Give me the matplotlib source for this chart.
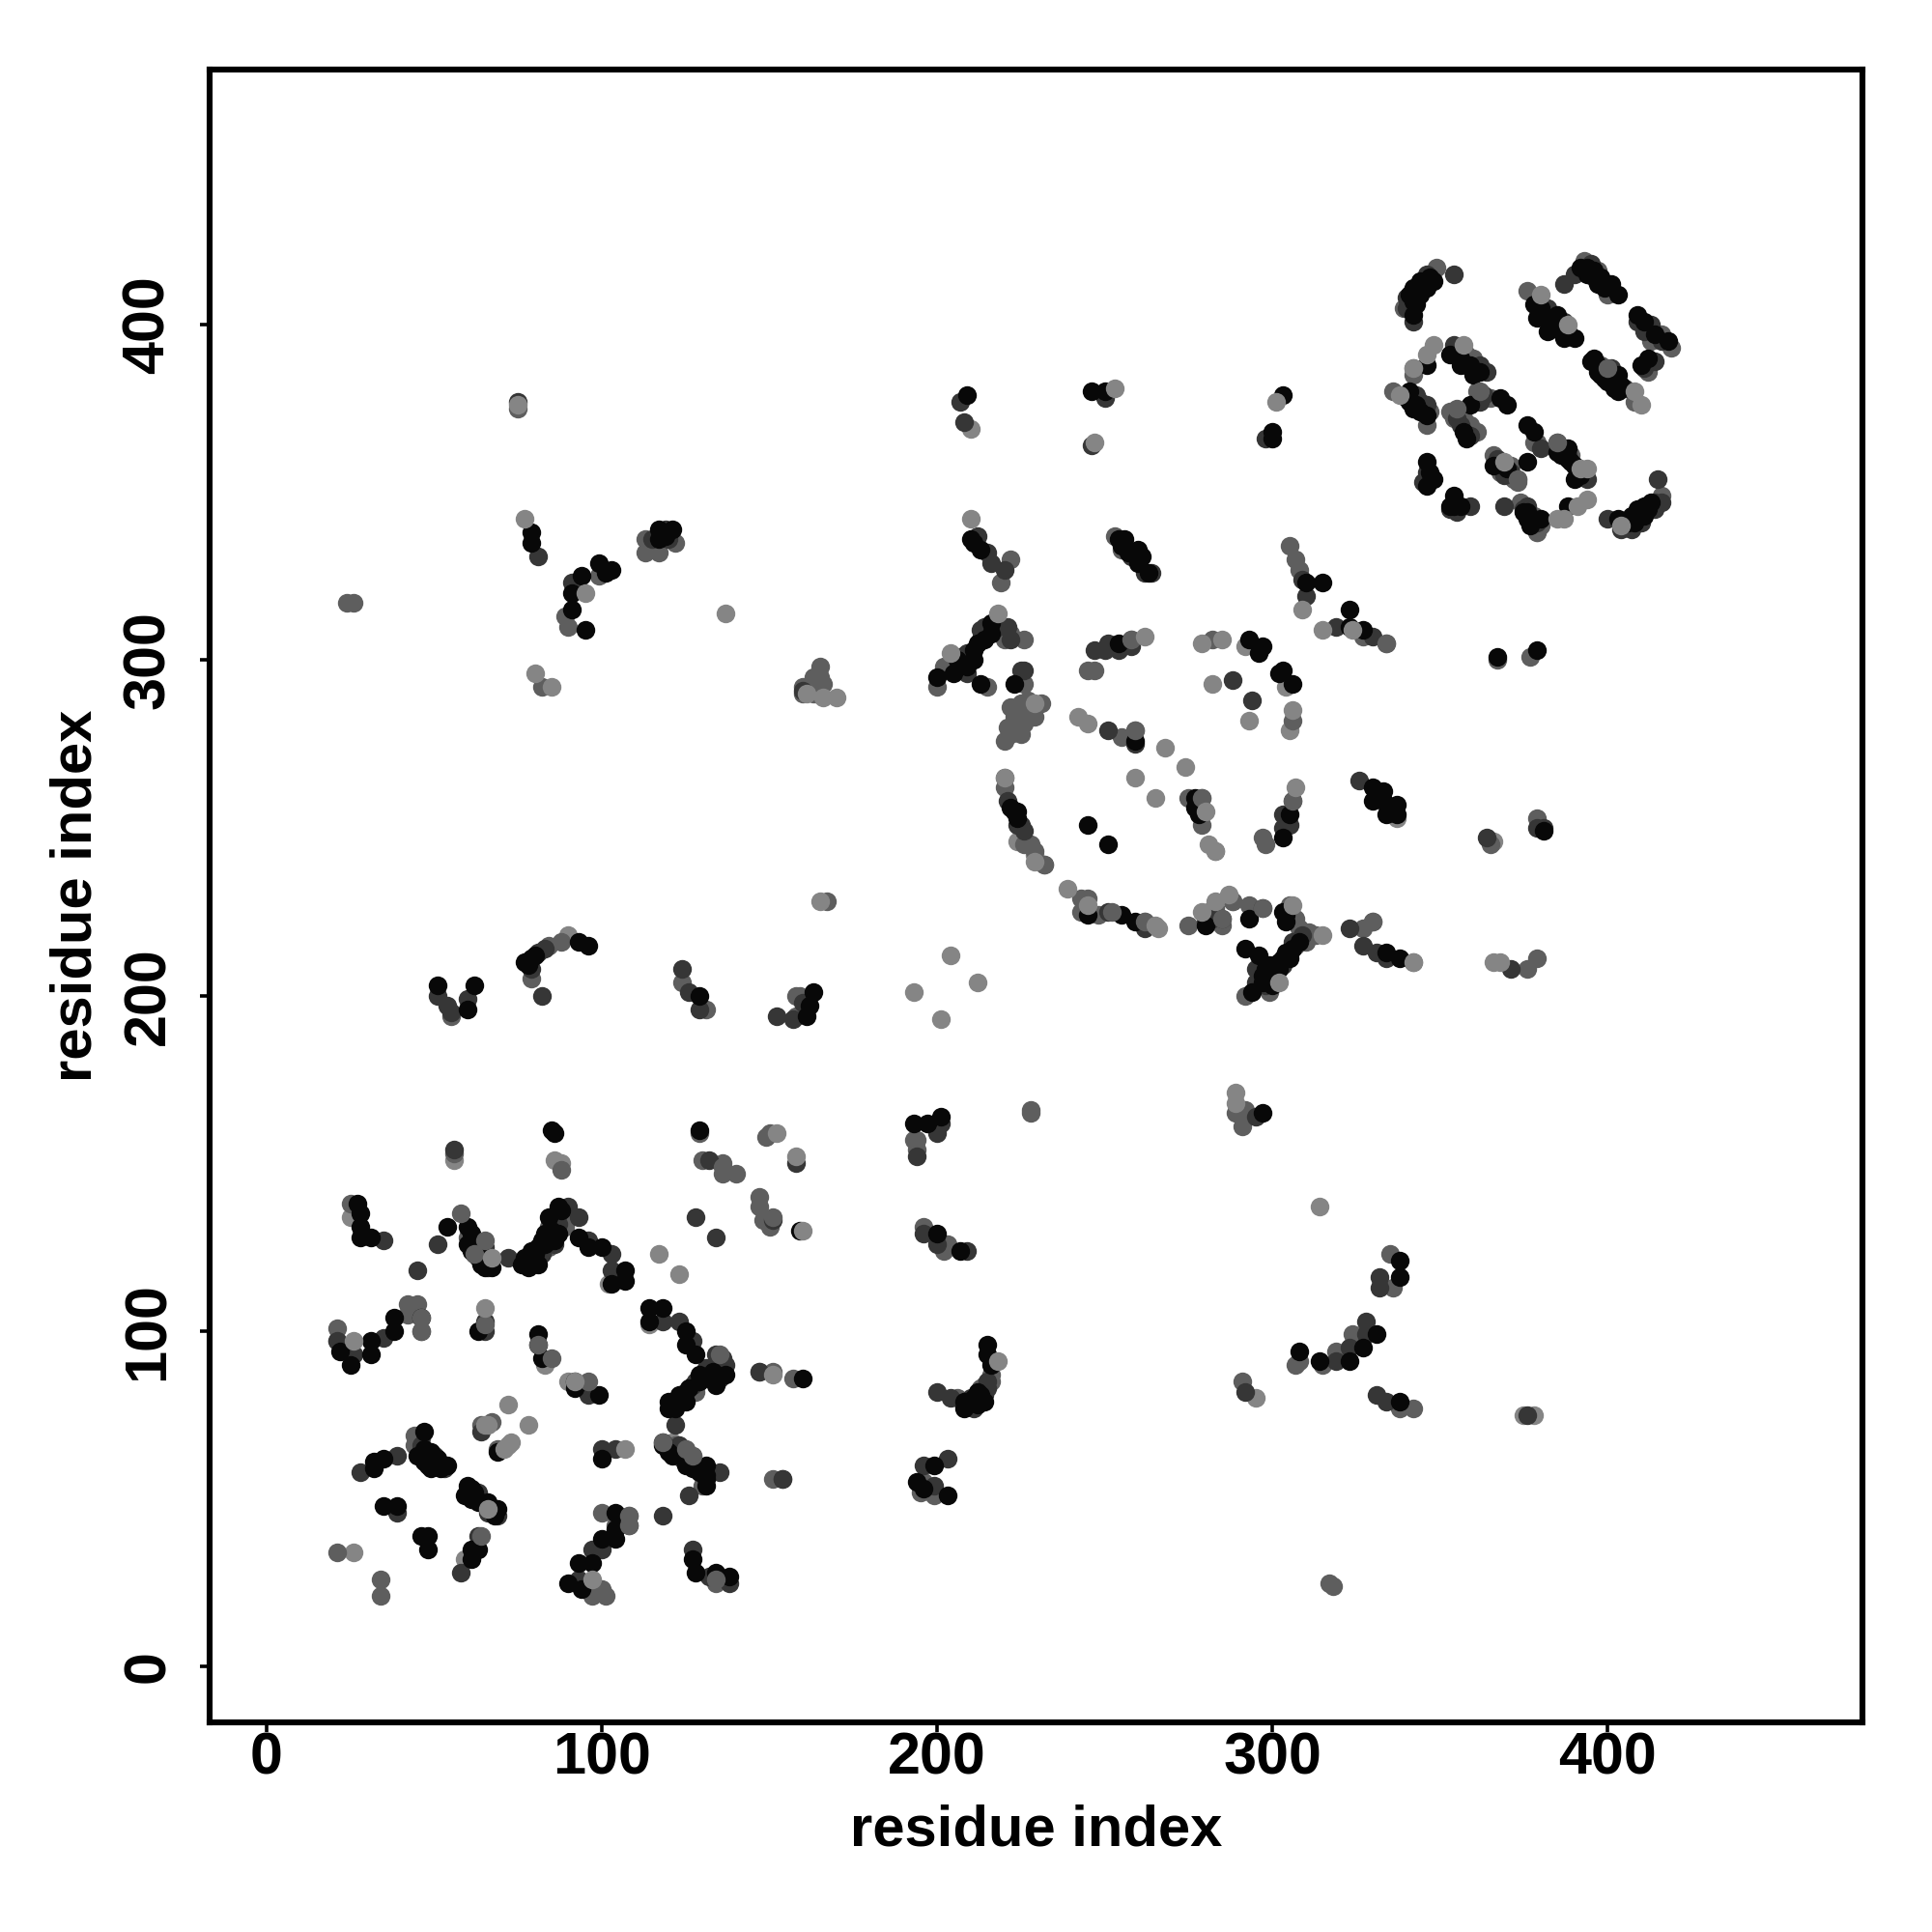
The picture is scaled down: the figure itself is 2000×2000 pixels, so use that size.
import matplotlib
matplotlib.use('Agg')
import matplotlib.pyplot as plt

plt.rcParams['font.family'] = ['Liberation Sans', 'DejaVu Sans']
plt.rcParams['font.weight'] = 'bold'

tick_vals = [0, 100, 200, 300, 400]
x_label = 'residue index'
y_label = 'residue index'

# contacts (residue i, residue j), by grey level
light = [(56,151),(86,151),(88,150),(25,134),(83,90),(90,85),(121,67),(59,32),(102,114),(114,102),
         (305,279),(292,304),(337,253),(304,292),(366,246),(224,246),(229,242),(210,369),(379,338),
         (90,218),(295,80),(26,34),(375,75),(378,75)]
mid = [(56,153),(88,148),(130,151),(136,150),(136,147),(140,147),(147,140),(147,137),(148,133),(150,131),
       (25,138),(60,128),(62,127),(86,130),(21,97),(42,108),(45,108),(42,105),(21,101),(130,54),
       (123,63),(127,61),(127,63),(44,69),(45,65),(34,26),(34,21),(97,21),(101,21),(134,25),
       (100,46),(108,45),(104,42),(147,88),(151,88),(157,86),(151,56),(196,131),(202,124),(203,126),
       (214,84),(216,85),(206,80),(196,55),(195,52),(199,51),(194,154),(194,157),(193,157),
       (291,85),(307,90),(308,91),(315,90),(319,94),(324,99),(336,113),(338,77),(342,77),(335,123),
       (298,245),(297,247),(279,251),(283,243),(275,259),(279,259),(245,297),(247,297),(282,306),
       (255,277),(259,279),(258,306),(327,307),(334,305),(306,282),(243,229),(243,225),(248,224),
       (262,222),(275,221),(285,221),(288,228),(293,227),(292,200),(299,205),(299,201),(307,223),
       (313,218),(327,220),(330,222),(342,210),(226,245),(229,243),(232,239),(220,262),(228,245),
       (222,286),(228,283),(224,280),(221,280),(226,293),(222,308),(226,306),(200,292),(202,298),
       (215,292),(220,265),(232,239),(219,323),(222,330),(253,337),(255,333),(305,334),(307,330),
       (308,327),(89,313),(90,310),(99,325),(113,336),(113,332),(117,332),(122,335),(75,375),
       (24,317),(26,317),(82,292),(160,290),(165,298),(163,293),(163,290),(158,200),(365,245),(379,253),
       (377,301),(367,300),(376,208),(379,211),(289,165),(291,161),(292,166),(228,166),(228,165),
       (349,417),(339,405),(393,419),(397,416),(398,388),(408,377),(419,393),(416,397),(412,386),
       (376,410),(357,391),(360,390),(361,380),(342,385),(353,374),(355,372),(358,370),(361,368),
       (342,378),(347,374),(346,370),(379,365),(389,361),(366,361),(368,356),(373,354),(373,353),
       (374,347),(378,343),(379,338),(380,340),(416,349),(336,380),
       (55,194),(79,205),(84,215),(88,216),(124,204),(131,196),(158,194),(159,200),(21,34),
       (64,72),(69,65),(317,25),(318,24),(167,228),
       (84,125),(88,133),(84,131),(89,131),(64,124),(63,126),(128,82),(122,66),(126,61),(46,68),(44,66),
       (213,83),(216,87),(296,205),(307,215),(310,216),(311,219),(281,225),(283,226),(305,227),(308,220),
       (220,306),(224,285),(226,284),(225,278),(227,284),(400,409),(413,395),(401,384),(358,391),(365,378),
       (354,372),(357,372),(359,370),(368,359),(371,358),(372,354),(378,365),
       (150,159),(149,158),(67,73),(220,276),(222,278),(223,283),(226,281),(229,283),(227,288),(231,287),
       (225,287),(160,292),(162,292),(164,290),(165,295),(166,293),(163,295),(129,159)]
dark = [(56,154),(132,151),(151,133),(128,134),(134,128),(35,127),(51,126),(45,118),(65,125),(72,122),
        (87,132),(90,137),(93,134),(96,127),(103,123),(103,118),(21,97),(26,93),(35,98),(46,100),
        (65,103),(65,100),(96,81),(118,103),(123,103),(127,97),(134,93),(137,90),(132,87),(128,85),
        (125,82),(122,72),(124,65),(135,58),(126,51),(154,56),(28,58),(39,63),(53,59),(39,46),
        (69,45),(66,46),(63,39),(58,28),(108,42),(97,35),(100,35),(93,26),(118,45),(127,35),
        (138,25),(132,27),(158,150),(194,152),(196,129),(200,126),(209,124),(215,83),(211,77),
        (204,80),(200,82),(203,62),(196,60),(199,54),(147,88),(154,56),(376,75),(292,82),(319,91),
        (323,95),(328,99),(328,103),(332,116),(332,113),(331,81),(334,79),(247,303),(250,303),
        (251,305),(254,303),(258,304),(288,294),(294,288),(306,258),(303,254),(305,251),(303,250),
        (319,310),(330,307),(310,319),(251,279),(259,275),(326,264),(225,251),(251,225),(262,220),
        (280,222),(285,223),(297,226),(295,208),(295,204),(323,220),(327,215),(331,213),(334,211),
        (309,218),(364,247),(371,208),(379,250),(295,164),(215,332),(216,329),(220,327),(262,326),
        (264,326),(309,324),(81,331),(91,323),(75,377),(160,291),(207,377),(208,371),(246,364),
        (250,378),(298,366),(209,302),(213,306),(221,310),(209,296),(226,297),(225,297),(221,258),
        (224,251),(201,162),(200,159),(354,415),(340,408),(342,401),(346,415),(382,405),(387,401),
        (395,418),(390,415),(387,412),(409,401),(412,399),(414,389),(412,389),(411,387),(401,387),
        (354,394),(362,388),(364,386),(344,377),(346,376),(355,372),(380,363),(385,365),(394,354),
        (371,356),(346,356),(345,353),(359,346),(353,345),(369,346),(376,346),(400,342),(407,339),
        (414,347),(415,354),(381,250),
        (51,200),(54,197),(60,199),(55,195),(79,208),(82,200),(81,213),(83,214),(124,208),(126,201),
        (129,196),(152,194),(157,193),(160,198),(64,70),(100,65),(104,65),
        (82,123),(86,126),(86,133),(63,122),(66,119),(62,127),(124,81),(127,84),(130,86),(131,89),(135,86),
        (136,92),(123,66),(124,62),(128,60),(46,66),(50,63),(63,52),(65,49),(210,80),(214,81),(215,85),
        (301,207),(303,209),(305,213),(306,216),(299,207),(298,203),(282,223),(207,301),(214,310),(213,309),
        (218,310),(222,306),(226,249),(115,336),(119,339),(120,336),(258,331),(212,337),(340,405),(381,403),
        (388,398),(396,414),(413,400),(411,398),(416,395),(399,386),(402,383),(405,381),(355,392),(361,386),
        (363,379),(362,377),(345,375),(343,379),(356,370),(359,367),(367,360),(369,355),(388,361),(391,356),
        (378,342),(379,341),(375,345),(410,341),(414,345),(409,343),(416,347),(404,339),(355,344)]
black = [(27,138),(28,135),(28,131),(28,128),(31,128),(54,131),(60,131),(60,126),(62,123),(64,120),
         (65,119),(67,119),(76,120),(78,121),(80,123),(81,125),(83,126),(84,128),(84,134),(87,137),
         (93,128),(96,125),(100,125),(107,118),(107,115),(103,114),(22,94),(25,90),(31,97),(31,93),
         (38,100),(38,104),(46,104),(63,100),(81,99),(81,96),(82,92),(92,85),(92,83),(99,81),
         (114,107),(118,107),(114,103),(125,100),(125,96),(128,93),(137,87),(134,84),(129,87),
         (123,81),(121,79),(120,77),(118,67),(118,66),(125,60),(131,60),(131,57),(131,54),
         (32,59),(32,61),(35,62),(47,70),(45,63),(49,64),(51,62),(49,59),(54,60),(47,61),
         (60,54),(59,51),(62,52),(64,49),(69,47),(35,48),(39,48),(46,39),(48,39),(48,35),
         (61,35),(61,32),(63,35),(104,46),(104,41),(104,38),(100,38),(97,31),(93,31),(90,25),
         (94,23),(127,32),(128,28),(134,28),(138,27),(159,130),(200,129),(207,124),
         (215,96),(215,93),(216,90),(213,81),(211,80),(208,79),(208,77),(199,60),(194,55),
         (196,53),(203,51),(160,86),(338,121),(338,116),(308,94),(323,91),(327,95),(314,91),(331,99),
         (338,79),(85,160),(86,159),(129,160),(193,162),(197,162),(201,164),(297,165),
         (293,306),(297,304),(296,302),(303,297),(302,296),(306,293),(323,315),(323,310),(327,309),
         (310,323),(315,323),(254,305),(259,276),(277,259),(277,256),(278,254),(245,251),(251,245),
         (305,254),(303,247),(330,262),(333,261),(330,258),(333,258),(337,257),(334,254),(337,254),
         (224,255),(223,255),(245,224),(255,224),(259,222),(280,221),(293,223),(303,225),(304,222),
         (292,214),(296,212),(306,214),(303,211),(300,208),(294,201),(308,216),(304,213),(302,210),
         (334,213),(338,211),(367,301),(379,303),(381,249),(79,338),(79,335),(91,320),(91,315),
         (95,309),(94,325),(99,329),(101,326),(103,327),(117,339),(121,339),(119,337),
         (211,335),(213,333),(256,336),(260,333),(257,332),(260,329),(209,379),(246,380),(250,380),
         (303,379),(300,368),(300,366),(200,295),(205,296),(209,298),(211,303),(216,308),(213,293),
         (223,293),(346,413),(344,413),(342,411),(342,407),(342,403),(380,405),(385,403),(380,403),
         (383,400),(390,396),(387,396),(398,414),(401,412),(403,409),(409,403),(418,395),
         (396,390),(395,389),(403,385),(400,383),(404,382),(403,380),(346,388),(353,391),(358,388),
         (359,376),(368,378),(370,376),(341,380),(340,378),(342,375),(358,366),(376,370),(378,368),
         (376,359),(388,363),(388,360),(390,354),(366,358),(346,359),(348,354),(354,349),(353,346),
         (375,344),(380,342),(388,346),(403,342),(408,341),(411,343),(412,345),
         (51,203),(60,196),(62,203),(93,216),(96,215),(77,210),(78,209),(79,211),(80,212),(129,200),
         (161,194),(163,201),(162,197),(77,122),(79,124),(82,127),(85,130),(100,62),(69,64),
         (78,119),(80,121),(86,127),(83,129),(85,127),(79,122),(81,120),(87,129),(88,136),(61,124),(65,122),
         (61,129),(120,79),(122,77),(123,79),(125,79),(126,83),(129,85),(133,88),(125,63),(127,59),(129,58),
         (131,56),(120,64),(121,63),(47,65),(48,62),(50,60),(52,59),(46,63),(48,60),(61,50),(63,49),(66,49),
         (61,53),(67,47),(68,45),(209,78),(212,78),(212,82),(214,79),(297,206),(298,208),(299,209),(302,208),
         (301,209),(305,211),(297,204),(300,203),(304,224),(206,300),(212,305),(214,306),(211,300),(216,311),
         (222,256),(224,253),(117,336),(254,336),(255,334),(261,331),(263,326),(210,336),(343,410),(345,412),
         (347,414),(341,409),(344,409),(346,411),(348,413),(343,406),(378,406),(383,402),(385,400),(386,398),
         (382,398),(384,399),(379,402),(392,417),(394,415),(397,412),(399,411),(394,417),(396,416),(411,401),
         (414,397),(410,388),(412,390),(397,388),(398,385),(399,384),(402,381),(397,386),(356,390),(359,388),
         (356,388),(360,385),(362,386),(343,376),(344,374),(341,377),(346,373),(357,368),(370,357),(386,361),
         (385,362),(390,358),(392,355),(389,359),(376,344),(376,342),(377,340),(405,341),(407,343),(409,345),
         (411,346),(413,347),(406,341),(346,352),(347,356),(354,346),(356,346)]
mid_top = [(58,135),(65,127),(46,104),(62,123),(81,96),(85,92),(96,85),(135,93),(118,67),(125,65),(127,63),
           (108,45),(108,42),(64,39),(100,23),(134,26),(46,100),(65,102),(136,149),(151,134),
           (259,279),(279,259),(306,258),(258,306),(334,305),(285,223),(288,228),(297,226),(330,222),
           (252,225),(262,222),(245,229),(342,387),(362,380),(355,375),(385,365),(373,354),(400,387)]
light_top = [(26,97),(65,107),(67,122),(66,47),(97,26),(92,85),(117,123),(123,117),(158,152),(151,87),
             (160,130),(218,91),(204,212),(212,204),(201,193),(193,201),(165,228),(314,137),(268,274),
             (274,268),(259,265),(265,259),(280,255),(282,293),(293,282),(306,285),(279,305),(285,306),
             (307,262),(262,307),(315,309),(324,309),(309,315),(242,283),(245,281),(281,245),(283,243),
             (229,240),(239,232),(245,227),(265,221),(266,220),(279,225),(283,228),(287,230),(306,227),
             (315,218),(302,204),(366,210),(368,210),(342,210),(137,314),(80,296),(85,292),(77,342),(95,320),
             (229,287),(218,314),(204,302),(220,265),(289,171),(289,168),(348,394),(346,391),(342,387),
             (357,394),(380,409),(388,400),(408,380),(410,376),(338,379),(392,357),(394,357),(369,359),
             (385,342),(387,342),(391,346),(394,348),(404,340),(166,289),(170,289),(161,290),(253,381),
             (301,377),(247,365),(75,376),(210,342),(65,72),(72,78),(78,72),(72,66),(107,65),
             (152,159),(66,72),(71,65),(73,67)]

fig = plt.figure(figsize=(20, 20), dpi=100)
ax = fig.add_axes([0.1085, 0.1085, 0.8555, 0.8555])

layers = [(light, '#858585'), (mid, '#5e5e5e'), (dark, '#363636'), (black, '#080808'),
          (mid_top, '#5e5e5e'), (light_top, '#858585')]
for pts, col in layers:
    xs = [p[0] for p in pts]
    ys = [p[1] for p in pts]
    ax.scatter(xs, ys, s=195, c=col, linewidths=0, zorder=2)

ax.set_xlim(-17, 476)
ax.set_ylim(-16.6, 476)
ax.set_xticks(tick_vals)
ax.set_yticks(tick_vals)
ax.tick_params(axis='both', direction='out', length=7, width=2.6, labelsize=44)
ax.tick_params(axis='x', pad=0)
ax.tick_params(axis='y', pad=17.5)
for lab in ax.get_yticklabels():
    lab.set_rotation(90)
    lab.set_va('center')
for s in ax.spines.values():
    s.set_linewidth(4.4)
ax.set_xlabel(x_label, fontsize=43, fontweight='bold', labelpad=13)
ax.set_ylabel(y_label, fontsize=43, fontweight='bold', labelpad=14)

fig.savefig('out.png', dpi=100)
